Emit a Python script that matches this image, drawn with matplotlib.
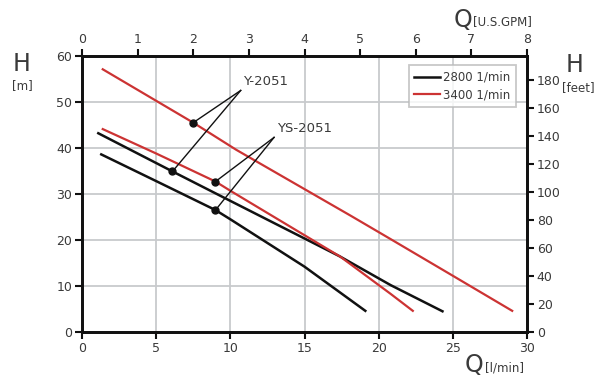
"""Pump head curves Y-2051 / YS-2051 at 2800 and 3400 1/min."""

import matplotlib

matplotlib.use("Agg")
import matplotlib.pyplot as plt

# flow (l/min) vs head (m)
q_y2051_2800 = [1.1, 6.1, 10.0, 17.4, 20.8, 24.3]
h_y2051_2800 = [43.2, 34.9, 28.5, 16.4, 10.2, 4.5]

q_ys2051_2800 = [1.3, 5.0, 9.0, 10.0, 15.0, 19.1]
h_ys2051_2800 = [38.6, 32.8, 26.5, 24.5, 14.2, 4.6]

q_y2051_3400 = [1.4, 7.5, 10.4, 18.1, 20.8, 24.8, 29.0]
h_y2051_3400 = [57.1, 45.5, 39.6, 25.3, 20.2, 12.6, 4.6]

q_ys2051_3400 = [1.4, 5.0, 9.0, 10.0, 13.0, 17.4, 20.8, 22.3]
h_ys2051_3400 = [44.1, 38.8, 32.7, 30.7, 24.9, 16.4, 8.3, 4.6]

# duty points picked out by the model callouts
y2051_points_q = [7.5, 6.1]
y2051_points_h = [45.5, 34.9]
ys2051_points_q = [9.0, 9.0]
ys2051_points_h = [32.7, 26.5]

speed_labels = ["2800 1/min", "3400 1/min"]
x_ticks = [0, 5, 10, 15, 20, 25, 30]
y_ticks = [0, 10, 20, 30, 40, 50, 60]
gpm_ticks = [0, 1, 2, 3, 4, 5, 6, 7, 8]
feet_ticks = [0, 20, 40, 60, 80, 100, 120, 140, 160, 180]
M_TO_FT = 3.2808

BLACK = "#111111"
RED = "#cc3333"
GRID = "#c8cacd"
TEXT = "#3a3a3a"

plt.rcParams["font.family"] = ["DejaVu Sans"]

fig = plt.figure(figsize=(6.09, 3.78), dpi=100)
ax = fig.add_axes([0.1346, 0.1217, 0.7308, 0.7303])

ax.plot(q_y2051_2800, h_y2051_2800, color=BLACK, lw=1.8, label=speed_labels[0], zorder=3)
ax.plot(q_ys2051_2800, h_ys2051_2800, color=BLACK, lw=1.8, zorder=3)
ax.plot(q_y2051_3400, h_y2051_3400, color=RED, lw=1.6, label=speed_labels[1], zorder=3)
ax.plot(q_ys2051_3400, h_ys2051_3400, color=RED, lw=1.6, zorder=3)

# callouts
for label, pq, ph, apex, txt in [
    ("Y-2051", y2051_points_q, y2051_points_h, (10.7, 52.5), (12.4, 54.4)),
    ("YS-2051", ys2051_points_q, ys2051_points_h, (12.95, 42.3), (15.0, 44.3)),
]:
    for q, h in zip(pq, ph):
        ax.plot([q, apex[0]], [h, apex[1]], color=BLACK, lw=1.0, zorder=4)
    ax.plot(pq, ph, "o", color=BLACK, ms=5, zorder=5)
    ax.text(txt[0], txt[1], label, fontsize=9.5, color=TEXT, ha="center", va="center")

ax.set_xlim(0, 30)
ax.set_ylim(0, 60)
ax.set_xticks(x_ticks)
ax.set_yticks(y_ticks)
ax.grid(color=GRID, lw=1.3)
ax.set_axisbelow(True)

ax_top = ax.twiny()
ax_top.set_xlim(0, 8)
ax_top.set_xticks(gpm_ticks)
ax_right = ax.twinx()
ax_right.set_ylim(0, 60 * M_TO_FT)
ax_right.set_yticks(feet_ticks)

for axis in (ax, ax_top, ax_right):
    for spine in axis.spines.values():
        spine.set_linewidth(1.8)
        spine.set_color(BLACK)
    axis.tick_params(width=1.5, length=5, color=BLACK, labelsize=9, labelcolor=TEXT, pad=2)

legend = ax.legend(
    loc="upper right",
    bbox_to_anchor=(0.975, 0.966),
    frameon=True,
    fancybox=False,
    fontsize=8.5,
    handlelength=2.2,
    handletextpad=0.3,
    borderpad=0.45,
    labelspacing=0.4,
    borderaxespad=0,
)
legend.get_frame().set_edgecolor("#bbbbbb")
legend.get_frame().set_linewidth(1.3)
for text in legend.get_texts():
    text.set_color(TEXT)

# axis titles
fig.text(0.036, 0.831, "H", fontsize=17, color=TEXT, ha="center", va="center")
fig.text(0.036, 0.773, "[m]", fontsize=8.5, color=TEXT, ha="center", va="center")
fig.text(0.944, 0.828, "H", fontsize=17, color=TEXT, ha="center", va="center")
fig.text(0.950, 0.768, "[feet]", fontsize=8.5, color=TEXT, ha="center", va="center")
fig.text(0.760, 0.947, "Q", fontsize=17, color=TEXT, ha="center", va="center")
fig.text(0.777, 0.944, "[U.S.GPM]", fontsize=8.5, color=TEXT, ha="left", va="center")
fig.text(0.779, 0.035, "Q", fontsize=17, color=TEXT, ha="center", va="center")
fig.text(0.797, 0.027, "[l/min]", fontsize=8.5, color=TEXT, ha="left", va="center")

fig.savefig("out.png", dpi=100)
plt.close(fig)
